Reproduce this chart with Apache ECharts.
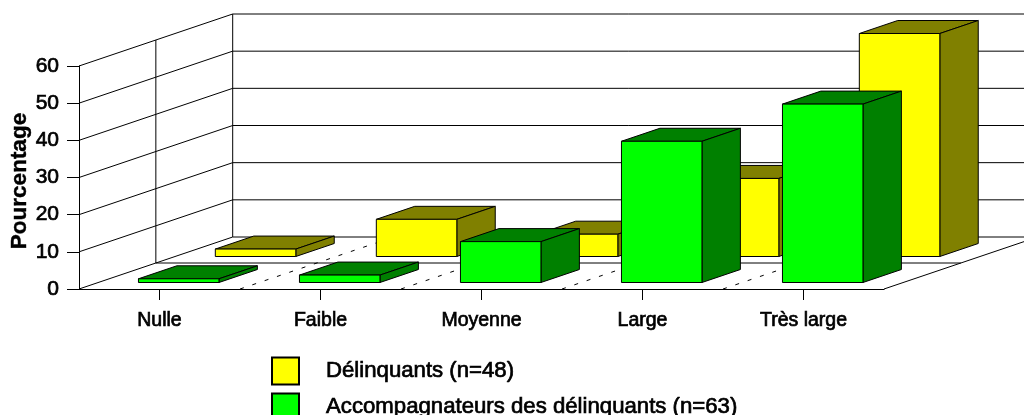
<!DOCTYPE html>
<html>
<head>
<meta charset="utf-8">
<style>html,body{margin:0;padding:0;background:#fff;overflow:hidden}#c{width:1024px;height:415px}</style>
<script src="https://cdn.jsdelivr.net/npm/echarts@6/dist/echarts.min.js"></script>
</head>
<body>
<div id="c"></div>
<script>
var categories = ["Nulle", "Faible", "Moyenne", "Large", "Très large"];
var delinquants = [2, 10, 6, 21, 60];
var accompagnateurs = [1, 2, 11, 38, 48];
var gridLevels = [10, 20, 30, 40, 50, 60];
var categoryBoundaries = [1, 2, 3, 4];

var DX = 153.7, DY = 52;
var FONT = '"Liberation Sans", Arial, sans-serif';
var HEAVY = { textBorderColor: '#000', textBorderWidth: 0.7 };

function proj(pt, z) { return [pt[0] + DX * z, pt[1] - DY * z]; }

function lineEl(a, b, dash) {
  return {
    type: 'line', silent: true,
    shape: { x1: a[0], y1: a[1], x2: b[0], y2: b[1] },
    style: { stroke: '#000', lineWidth: 1, lineDash: dash || null, fill: null }
  };
}

function barRenderer(front, side, zFront, zBack) {
  return function (params, api) {
    var idx = api.value(0), val = api.value(1);
    var band = api.size([1, 0])[0];
    var cx = api.coord([idx, 0])[0];
    var y0 = api.coord([idx, 0])[1];
    var y1 = api.coord([idx, val])[1];
    var l = cx - band / 4, r = cx + band / 4;
    var A = proj([l, y0], zFront), B = proj([r, y0], zFront);
    var C = proj([r, y1], zFront), D = proj([l, y1], zFront);
    var B2 = proj([r, y0], zBack), C2 = proj([r, y1], zBack), D2 = proj([l, y1], zBack);
    function poly(points, fill) {
      return { type: 'polygon', shape: { points: points },
        style: { fill: fill, stroke: '#000', lineWidth: 1, lineJoin: 'round' } };
    }
    return { type: 'group', children: [
      poly([D, C, C2, D2], side),
      poly([B, B2, C2, C], side),
      poly([A, B, C, D], front)
    ] };
  };
}

function wallRenderer(params, api) {
  var lvl = api.value(1);
  var band = api.size([1, 0])[0];
  var left = api.coord([0, 0])[0] - band / 2;
  var right = api.coord([categories.length - 1, 0])[0] + band / 2;
  var y = api.coord([0, lvl])[1];
  var far = proj([left, y], 1);
  return { type: 'group', children: [
    lineEl([left, y], far),
    lineEl(far, proj([right, y], 1))
  ] };
}

function frameRenderer(params, api) {
  var band = api.size([1, 0])[0];
  var left = api.coord([0, 0])[0] - band / 2;
  var right = api.coord([categories.length - 1, 0])[0] + band / 2;
  var y0 = api.coord([0, 0])[1];
  var yTop = api.coord([0, gridLevels[gridLevels.length - 1]])[1];
  return { type: 'group', children: [
    lineEl([left, y0], proj([left, y0], 1)),
    lineEl([right, y0], proj([right, y0], 1)),
    lineEl(proj([left, y0], 1), proj([right, y0], 1)),
    lineEl(proj([left, y0], 0.5), proj([right, y0], 0.5)),
    lineEl(proj([left, y0], 0.5), proj([left, yTop], 0.5)),
    lineEl(proj([left, y0], 1), proj([left, yTop], 1))
  ] };
}

function dashRenderer(params, api) {
  var band = api.size([1, 0])[0];
  var x = api.coord([0, 0])[0] - band / 2 + band * api.value(0);
  var y0 = api.coord([0, 0])[1];
  return lineEl([x, y0], proj([x, y0], 1), [4, 9]);
}

var chart = echarts.init(document.getElementById('c'), null, { renderer: 'canvas' });
chart.setOption({
  animation: false,
  backgroundColor: '#fff',
  textStyle: { fontFamily: FONT, color: '#000' },
  grid: { left: 79, top: 66, width: 805, height: 223, containLabel: false, outerBoundsMode: 'none' },
  legend: {
    data: ['Délinquants (n=48)', 'Accompagnateurs des délinquants (n=63)'],
    orient: 'vertical', left: 271, top: 356.5, padding: 0, height: 120, width: 700,
    itemWidth: 27, itemHeight: 27, itemGap: 7, icon: 'rect',
    selectedMode: false,
    textStyle: Object.assign({ fontFamily: FONT, fontSize: 22.2, color: '#000', padding: [4, 0, 0, 22] }, HEAVY)
  },
  xAxis: {
    type: 'category', data: categories, boundaryGap: true,
    axisLine: { show: true, lineStyle: { color: '#000', width: 1 } },
    axisTick: { show: true, alignWithLabel: true, length: 11, lineStyle: { color: '#000', width: 1 } },
    axisLabel: Object.assign({ fontFamily: FONT, fontSize: 19.5, color: '#000', margin: 22 }, HEAVY),
    splitLine: { show: false }
  },
  yAxis: {
    type: 'value', min: 0, max: 60, interval: 10,
    name: 'Pourcentage', nameLocation: 'middle', nameGap: 48, nameRotate: 90, nameMoveOverlap: false,
    nameTextStyle: { fontFamily: FONT, fontSize: 22.5, fontWeight: 'bold', color: '#000', padding: [0, 0, 0, -7],
      textBorderColor: '#000', textBorderWidth: 0.4 },
    axisLine: { show: true, lineStyle: { color: '#000', width: 1 } },
    axisTick: { show: true, length: 12, lineStyle: { color: '#000', width: 1 } },
    axisLabel: Object.assign({ fontFamily: FONT, fontSize: 21, color: '#000', margin: 20 }, HEAVY),
    splitLine: { show: false }
  },
  series: [
    { type: 'custom', name: 'cadre', silent: true, z: 1, renderItem: frameRenderer,
      data: [[0, 0]], encode: { x: 0, y: 1 } },
    { type: 'custom', name: 'grille', silent: true, z: 1, renderItem: wallRenderer,
      data: gridLevels.map(function (v) { return [0, v]; }), encode: { x: 0, y: 1 } },
    { type: 'custom', name: 'sol', silent: true, z: 1, renderItem: dashRenderer,
      data: categoryBoundaries.map(function (v) { return [v, 0]; }), encode: { x: 0, y: 1 } },
    { type: 'custom', name: 'Délinquants (n=48)', z: 2,
      itemStyle: { color: '#ffff00', borderColor: '#000', borderWidth: 1 },
      renderItem: barRenderer('#ffff00', '#808000', 0.625, 0.875),
      data: delinquants.map(function (v, i) { return [i, v]; }), encode: { x: 0, y: 1 } },
    { type: 'custom', name: 'Accompagnateurs des délinquants (n=63)', z: 3,
      itemStyle: { color: '#00ff00', borderColor: '#000', borderWidth: 1 },
      renderItem: barRenderer('#00ff00', '#008000', 0.125, 0.375),
      data: accompagnateurs.map(function (v, i) { return [i, v]; }), encode: { x: 0, y: 1 } }
  ]
});
</script>
</body>
</html>
